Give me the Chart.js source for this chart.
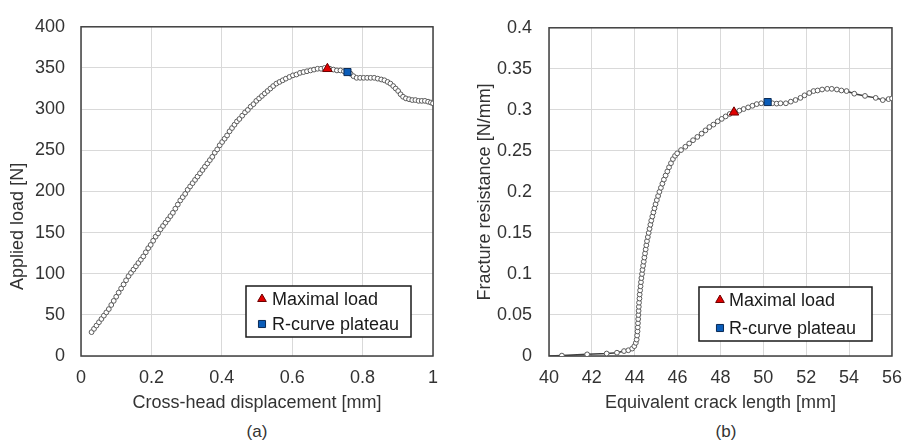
<!DOCTYPE html>
<html>
<head>
<meta charset="utf-8">
<script src="https://cdn.jsdelivr.net/npm/chart.js@4.4.1/dist/chart.umd.min.js"></script>
<style>
  body { margin: 0; background: #fff; width: 913px; height: 446px; position: relative; overflow: hidden; }
  canvas { position: absolute; top: 0; }
  #chartA { left: 0; }
  #chartB { left: 456px; }
  .caption { position: absolute; top: 422px; font: 17px "Liberation Sans", Arial, sans-serif; color: #333; transform: translateX(-50%); }
</style>
</head>
<body>
<canvas id="chartA" width="456" height="420"></canvas>
<canvas id="chartB" width="457" height="420"></canvas>
<div class="caption" style="left:257px">(a)</div>
<div class="caption" style="left:726px">(b)</div>
<script>
// (a) load vs cross-head displacement
const displacement = [
  0.030, 0.037, 0.044, 0.051, 0.058, 0.065, 0.072, 0.079, 0.086, 0.093,
  0.100, 0.107, 0.114, 0.121, 0.128, 0.135, 0.142, 0.149, 0.156, 0.163,
  0.170, 0.177, 0.184, 0.191, 0.198, 0.205, 0.212, 0.219, 0.226, 0.233,
  0.240, 0.247, 0.254, 0.261, 0.268, 0.275, 0.282, 0.289, 0.296, 0.303,
  0.310, 0.317, 0.324, 0.331, 0.338, 0.345, 0.352, 0.359, 0.366, 0.373,
  0.380, 0.387, 0.394, 0.401, 0.408, 0.415, 0.422, 0.429, 0.436, 0.443,
  0.450,
  0.458, 0.466, 0.474, 0.482, 0.490, 0.498, 0.506, 0.514, 0.522, 0.530, 0.538, 0.546,
  0.555, 0.564, 0.573, 0.582,
  0.592, 0.602, 0.612, 0.622, 0.632, 0.642, 0.652, 0.662, 0.672, 0.682, 0.692,
  0.707, 0.717, 0.727, 0.737, 0.747, 0.757,
  0.766, 0.774, 0.783,
  0.793, 0.803, 0.813, 0.823, 0.833, 0.843, 0.853,
  0.862, 0.871, 0.879, 0.887, 0.894, 0.901, 0.908, 0.915, 0.923,
  0.932, 0.941, 0.950, 0.959, 0.968, 0.977, 0.986,
  0.994, 1.000
];
const appliedLoad = [
  29, 33, 37, 41, 45, 49, 53, 57, 62, 67,
  72, 77, 82, 87, 92, 97, 101, 105, 109, 113,
  117, 121, 126, 131, 135, 140, 145, 149, 154, 158,
  162, 166, 170, 174, 179, 184, 189, 193, 197, 202,
  206, 210, 214, 218, 222, 226, 230, 234, 238, 242,
  247, 251, 256, 260, 264, 268, 273, 277, 281, 285,
  288,
  292, 296, 299, 303, 306, 310, 313, 316, 319, 322, 325, 328,
  331, 333, 335, 337,
  339, 341, 342, 344, 345, 346, 347, 348, 349, 349, 350,
  349, 348, 347, 347, 346, 345,
  343, 340, 338,
  338, 338, 338, 338, 338, 337, 336,
  335, 333, 331, 328, 325, 322, 318, 315, 313,
  312, 311, 311, 310, 310, 310, 309,
  308, 307
];
const maxLoadA = [0.700, 349];
const plateauA = [0.757, 345];

// (b) fracture resistance vs equivalent crack length
const crackLength = [
  40.0, 40.6, 41.78, 42.69, 43.17, 43.5, 43.7, 43.88, 43.98, 44.05,
  44.09, 44.11, 44.13, 44.14, 44.15, 44.16, 44.17, 44.18, 44.19, 44.2,
  44.22, 44.23, 44.25, 44.27, 44.29, 44.31, 44.34, 44.36, 44.39, 44.42,
  44.45, 44.48, 44.51, 44.54, 44.57, 44.61, 44.65, 44.69, 44.73, 44.77,
  44.82, 44.87, 44.92, 44.97, 45.03, 45.09, 45.15, 45.22, 45.29, 45.36,
  45.44, 45.52, 45.60, 45.69, 45.78, 45.88, 45.98, 46.16, 46.36, 46.54,
  46.72, 46.92, 47.12, 47.30, 47.48, 47.67, 47.87, 48.06, 48.24, 48.43,
  48.63, 48.88, 49.08, 49.29, 49.49, 49.69, 49.90, 50.2, 50.42, 50.62,
  50.8, 51.05, 51.28, 51.5, 51.73, 51.92, 52.14, 52.34, 52.53, 52.74,
  52.98, 53.19, 53.43, 53.64, 53.88, 54.24, 54.74, 55.24, 55.57, 55.84,
  56.0
];
const fractureResistance = [
  0, 0.0005, 0.002, 0.003, 0.004, 0.006, 0.007, 0.009, 0.012, 0.016,
  0.020, 0.025, 0.030, 0.035, 0.040, 0.045, 0.050, 0.055, 0.060, 0.065,
  0.070, 0.075, 0.080, 0.085, 0.090, 0.095, 0.100, 0.105, 0.110, 0.115,
  0.120, 0.125, 0.130, 0.135, 0.140, 0.145, 0.150, 0.155, 0.160, 0.165,
  0.170, 0.175, 0.180, 0.185, 0.190, 0.195, 0.200, 0.205, 0.210, 0.215,
  0.220, 0.225, 0.230, 0.235, 0.240, 0.244, 0.247, 0.251, 0.255, 0.259,
  0.263, 0.267, 0.271, 0.275, 0.279, 0.282, 0.286, 0.289, 0.292, 0.295,
  0.297, 0.299, 0.301, 0.303, 0.305, 0.307, 0.308, 0.309, 0.308, 0.3076,
  0.308, 0.308, 0.310, 0.312, 0.3146, 0.3177, 0.3205, 0.3229, 0.3236, 0.3248,
  0.3256, 0.3256, 0.3248, 0.3236, 0.3229, 0.3197, 0.3170, 0.3146, 0.3119, 0.3131,
  0.3139
];
const maxLoadB = [48.63, 0.297];
const plateauB = [50.2, 0.3095];

const legendLabels = ['Maximal load', 'R-curve plateau'];

Chart.defaults.font.family = '"Liberation Sans", Arial, sans-serif';
Chart.defaults.font.size = 18;
Chart.defaults.color = '#333';

function fmt(v) { return String(+v.toFixed(3)); }

// plot frame + legend box inside the plot area
const frameLegend = {
  id: 'frameLegend',
  beforeDatasetsDraw(chart) {
    const { ctx, chartArea: a } = chart;
    ctx.save();
    ctx.strokeStyle = '#404040';
    ctx.lineWidth = 1.5;
    ctx.strokeRect(a.left, a.top, a.right - a.left, a.bottom - a.top);
    ctx.restore();
  },
  afterDraw(chart, args, o) {
    const { ctx, chartArea: a } = chart;
    const x0 = a.right - o.right - o.width;
    const y0 = a.bottom - o.bottom - o.height;
    ctx.save();
    ctx.fillStyle = '#fff';
    ctx.fillRect(x0, y0, o.width, o.height);
    ctx.strokeStyle = '#1a1a1a';
    ctx.lineWidth = 1.5;
    ctx.strokeRect(x0, y0, o.width, o.height);
    const marks = chart.data.datasets.filter(d => d.inLegend);
    marks.forEach((d, i) => {
      const y = y0 + o.rows[i];
      ctx.fillStyle = d.backgroundColor;
      ctx.strokeStyle = d.borderColor;
      ctx.lineWidth = 1;
      Chart.helpers.drawPoint(ctx, { pointStyle: d.pointStyle, radius: d.legendRadius, borderWidth: 1, rotation: 0 }, x0 + o.markerX, y);
      ctx.fillStyle = '#1a1a1a';
      ctx.font = '18px "Liberation Sans", Arial, sans-serif';
      ctx.textBaseline = 'middle';
      ctx.fillText(d.label, x0 + o.textX, y + 1);
    });
    ctx.restore();
  }
};

function markerSets(maxPt, platPt) {
  return [
    { label: legendLabels[0], inLegend: true, data: [{ x: maxPt[0], y: maxPt[1] }],
      pointStyle: 'triangle', pointRadius: 5.5, legendRadius: 5, backgroundColor: '#e00000', borderColor: '#6b0000',
      pointBorderWidth: 1, showLine: false },
    { label: legendLabels[1], inLegend: true, data: [{ x: platPt[0], y: platPt[1] }],
      pointStyle: 'rect', pointRadius: 5, legendRadius: 5, backgroundColor: '#0a5cb8', borderColor: '#0a2a55',
      pointBorderWidth: 1, showLine: false }
  ];
}

function curveSet(xs, ys, hideFirst) {
  return {
    label: 'curve',
    data: xs.map((x, i) => ({ x: x, y: ys[i] })),
    showLine: true,
    borderColor: '#404040',
    borderWidth: 1.5,
    pointRadius: c => (hideFirst && c.dataIndex === 0) ? 0 : 2.4,
    pointBackgroundColor: '#fff',
    pointBorderColor: '#5a5a5a',
    pointBorderWidth: 1
  };
}

function makeChart(id, cfg) {
  return new Chart(document.getElementById(id), {
    type: 'scatter',
    data: { datasets: [...markerSets(cfg.maxPt, cfg.platPt), curveSet(cfg.xs, cfg.ys, cfg.hideFirst)] },
    options: {
      responsive: false,
      animation: false,
      devicePixelRatio: 1,
      layout: { padding: cfg.padding },
      plugins: { legend: { display: false }, tooltip: { enabled: false }, frameLegend: cfg.legend },
      scales: {
        x: {
          type: 'linear', min: cfg.xMin, max: cfg.xMax,
          ticks: { stepSize: cfg.xStep, padding: 11, callback: fmt, maxRotation: 0 },
          grid: { color: '#d9d9d9', drawTicks: false },
          border: { display: false },
          title: { display: true, text: cfg.xTitle, padding: { top: 0, bottom: 6 } },
          afterFit: s => { s.height = 64; }
        },
        y: {
          type: 'linear', min: cfg.yMin, max: cfg.yMax,
          ticks: { stepSize: cfg.yStep, padding: cfg.yTickPad, callback: fmt },
          grid: { color: '#d9d9d9', drawTicks: false },
          border: { display: false },
          title: { display: true, text: cfg.yTitle, padding: { top: cfg.yTitlePad, bottom: 0 } },
          afterFit: s => { s.width = cfg.yWidth; }
        }
      }
    },
    plugins: [frameLegend]
  });
}

makeChart('chartA', {
  xs: displacement, ys: appliedLoad, maxPt: maxLoadA, platPt: plateauA, hideFirst: false,
  xMin: 0, xMax: 1, xStep: 0.2, yMin: 0, yMax: 400, yStep: 50,
  xTitle: 'Cross-head displacement [mm]',
  yTitle: 'Applied load [N]              ',
  padding: { left: 2, right: 23, top: 16, bottom: 0 },
  yWidth: 79, yTickPad: 16, yTitlePad: 5,
  legend: { right: 22, bottom: 19, width: 165, height: 51, markerX: 16, textX: 26, rows: [13, 38] }
});

makeChart('chartB', {
  xs: crackLength, ys: fractureResistance, maxPt: maxLoadB, platPt: plateauB, hideFirst: true,
  xMin: 40, xMax: 56, xStep: 2, yMin: 0, yMax: 0.4, yStep: 0.05,
  xTitle: 'Equivalent crack length [mm]',
  yTitle: 'Fracture resistance [N/mm]',
  padding: { left: 2, right: 11, top: 17, bottom: 0 },
  yWidth: 91, yTickPad: 17, yTitlePad: 16,
  legend: { right: 20, bottom: 15, width: 173, height: 54, markerX: 21, textX: 30, rows: [13, 41] }
});
</script>
</body>
</html>
